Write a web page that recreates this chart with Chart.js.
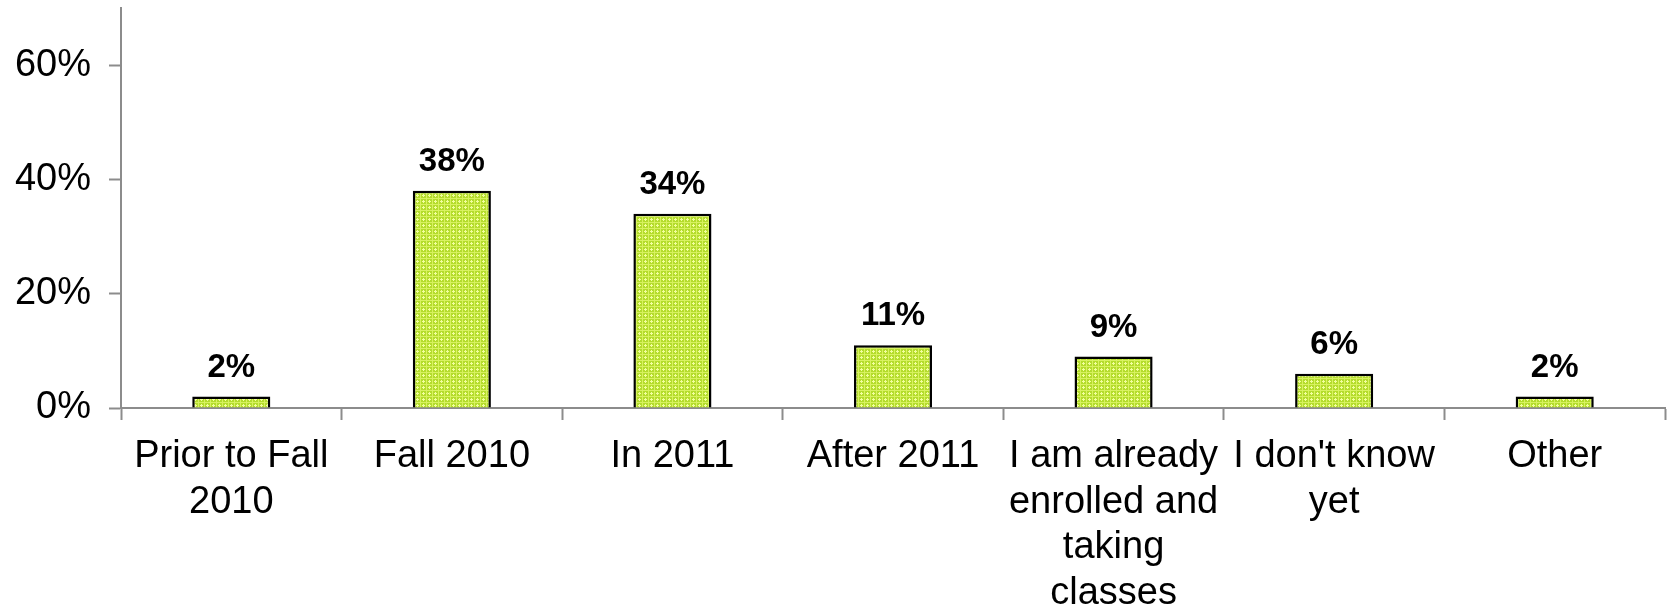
<!DOCTYPE html>
<html>
<head>
<meta charset="utf-8">
<script src="https://cdn.jsdelivr.net/npm/chart.js@4/dist/chart.umd.min.js"></script>
<style>
  html, body { margin: 0; padding: 0; background: #ffffff; }
  #wrap { width: 1669px; height: 614px; position: relative; }
</style>
</head>
<body>
<div id="wrap"><canvas id="c" width="1669" height="614"></canvas></div>
<script>
const categories = [
  ["Prior to Fall", "2010"],
  "Fall 2010",
  "In 2011",
  "After 2011",
  ["I am already", "enrolled and", "taking", "classes"],
  ["I don't know", "yet"],
  "Other"
];
const values = [2, 38, 34, 11, 9, 6, 2];
const yTicks = [0, 20, 40, 60];

function makePattern() {
  const t = document.createElement('canvas');
  t.width = 6; t.height = 6;
  const g = t.getContext('2d');
  g.fillStyle = '#b4dc2c';
  g.fillRect(0, 0, 6, 6);
  g.fillStyle = '#d8f260';
  g.fillRect(0, 0, 6, 1);
  g.fillRect(0, 0, 1, 6);
  g.fillStyle = '#f2ff9e';
  g.fillRect(3, 2, 1, 3);
  g.fillRect(2, 3, 3, 1);
  return document.getElementById('c').getContext('2d').createPattern(t, 'repeat');
}

const labelPlugin = {
  id: 'valueLabels',
  afterDatasetsDraw(chart) {
    const ctx = chart.ctx;
    const meta = chart.getDatasetMeta(0);
    ctx.save();
    ctx.font = 'bold 33px "Liberation Sans", Arial, sans-serif';
    ctx.fillStyle = '#000000';
    ctx.textAlign = 'center';
    ctx.textBaseline = 'alphabetic';
    meta.data.forEach((el, i) => {
      ctx.fillText(values[i] + '%', el.x, el.y - 20);
    });
    ctx.restore();
  }
};

new Chart(document.getElementById('c'), {
  type: 'bar',
  data: {
    labels: categories,
    datasets: [{
      data: values,
      backgroundColor: makePattern(),
      borderColor: '#000000',
      borderWidth: 2.5,
      borderSkipped: 'bottom',
      barPercentage: 0.354,
      categoryPercentage: 1.0
    }]
  },
  options: {
    responsive: false,
    animation: false,
    layout: { padding: { top: 8, right: 4, left: 0, bottom: 0 } },
    plugins: { legend: { display: false }, tooltip: { enabled: false } },
    scales: {
      x: {
        offset: true,
        afterFit(s) { s.height = 206; s.paddingLeft = 0; s.paddingRight = 0; },
        grid: {
          offset: true,
          drawOnChartArea: false,
          drawTicks: true,
          tickLength: 12,
          tickWidth: 2,
          color: '#8c8c8c'
        },
        border: { display: true, color: '#8c8c8c', width: 2 },
        ticks: {
          autoSkip: false,
          maxRotation: 0,
          minRotation: 0,
          padding: 14,
          color: '#000000',
          font: { family: '"Liberation Sans", Arial, sans-serif', size: 38, lineHeight: 1.2 }
        }
      },
      y: {
        min: 0,
        max: 70,
        afterFit(s) { s.width = 121; s.paddingTop = 0; s.paddingBottom = 0; },
        afterBuildTicks(s) { s.ticks = yTicks.map(v => ({ value: v })); },
        grid: {
          drawOnChartArea: false,
          drawTicks: true,
          tickLength: 12,
          tickWidth: 2,
          color: '#8c8c8c'
        },
        border: { display: true, color: '#8c8c8c', width: 2 },
        ticks: {
          padding: 18,
          color: '#000000',
          font: { family: '"Liberation Sans", Arial, sans-serif', size: 38 },
          callback: v => v + '%'
        }
      }
    }
  },
  plugins: [labelPlugin]
});
</script>
</body>
</html>
